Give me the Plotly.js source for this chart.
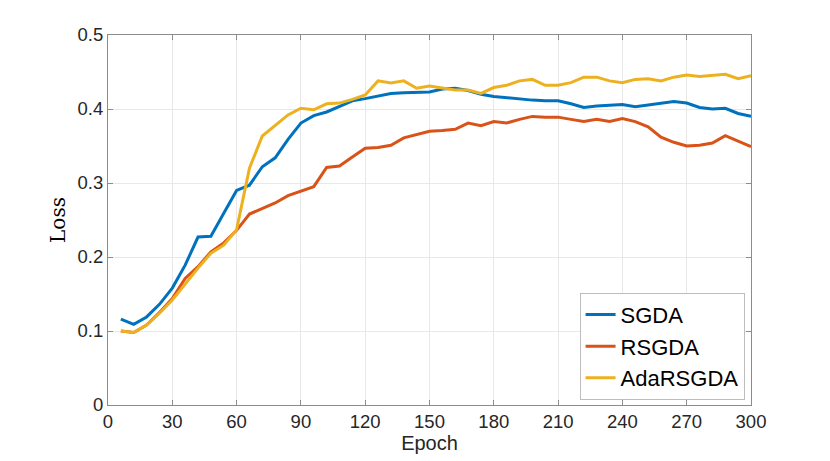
<!DOCTYPE html>
<html>
<head>
<meta charset="utf-8">
<script src="https://cdn.plot.ly/plotly-3.0.1.min.js"></script>
<style>
  html, body { margin: 0; padding: 0; background: #fff; }
  #chart { width: 830px; height: 461px; }
</style>
</head>
<body>
<div id="chart"></div>
<script>
// epochs sampled every 6 up to 300
const epochs = [6, 12, 18, 24, 30, 36, 42, 48, 54, 60,
  66, 72, 78, 84, 90, 96, 102, 108, 114, 120,
  126, 132, 138, 144, 150, 156, 162, 168, 174, 180,
  186, 192, 198, 204, 210, 216, 222, 228, 234, 240,
  246, 252, 258, 264, 270, 276, 282, 288, 294, 300];

const sgda = [0.116, 0.109, 0.119, 0.136, 0.158, 0.189, 0.227, 0.228, 0.259, 0.290,
  0.297, 0.322, 0.334, 0.359, 0.381, 0.391, 0.396, 0.404, 0.411, 0.414,
  0.418, 0.421, 0.422, 0.423, 0.423, 0.427, 0.428, 0.425, 0.420, 0.417,
  0.415, 0.4135, 0.412, 0.411, 0.411, 0.407, 0.402, 0.404, 0.405, 0.406,
  0.403, 0.405, 0.408, 0.410, 0.408, 0.402, 0.400, 0.401, 0.394, 0.390];

const rsgda = [0.100, 0.098, 0.108, 0.125, 0.144, 0.171, 0.187, 0.207, 0.219, 0.236,
  0.258, 0.266, 0.273, 0.283, 0.289, 0.295, 0.321, 0.323, 0.335, 0.347,
  0.348, 0.351, 0.361, 0.365, 0.370, 0.371, 0.3725, 0.381, 0.3775, 0.383,
  0.381, 0.386, 0.390, 0.389, 0.389, 0.386, 0.383, 0.386, 0.383, 0.387,
  0.383, 0.376, 0.362, 0.355, 0.350, 0.351, 0.354, 0.364, 0.357, 0.349];

const adarsgda = [0.100, 0.098, 0.108, 0.124, 0.142, 0.164, 0.185, 0.205, 0.216, 0.237,
  0.320, 0.3635, 0.378, 0.392, 0.401, 0.399, 0.407, 0.408, 0.413, 0.419,
  0.438, 0.435, 0.438, 0.428, 0.431, 0.428, 0.4257, 0.4257, 0.421, 0.429,
  0.432, 0.438, 0.440, 0.432, 0.432, 0.4356, 0.443, 0.443, 0.438, 0.4356,
  0.440, 0.441, 0.438, 0.443, 0.446, 0.444, 0.445, 0.447, 0.441, 0.445];

const xTicks = [0, 30, 60, 90, 120, 150, 180, 210, 240, 270, 300];
const yTicks = [0, 0.1, 0.2, 0.3, 0.4, 0.5];

function line(y, name, color) {
  return {
    x: epochs, y: y, name: name,
    type: "scatter", mode: "lines",
    line: { color: color, width: 3 },
  };
}

const data = [
  line(sgda, "SGDA", "#0072BD"),
  line(rsgda, "RSGDA", "#D95319"),
  line(adarsgda, "AdaRSGDA", "#EDB120"),
];

const axisCommon = {
  showline: true,
  linecolor: "#8c8c8c",
  linewidth: 1,
  mirror: "allticks",
  ticks: "inside",
  ticklen: 5,
  tickcolor: "#8c8c8c",
  showgrid: true,
  gridcolor: "#e8e8e8",
  zeroline: false,
  tickfont: { family: "Liberation Sans, Arial, sans-serif", size: 18.5, color: "#262626" },
};

const layout = {
  width: 830,
  height: 461,
  paper_bgcolor: "#fff",
  plot_bgcolor: "#fff",
  margin: { l: 108, r: 79, t: 35, b: 56 },
  xaxis: {
    ...axisCommon,
    range: [0, 300],
    tickvals: xTicks,
    ticktext: xTicks.map(String),
    title: { text: "Epoch", standoff: 1,
      font: { family: "Liberation Sans, Arial, sans-serif", size: 20, color: "#262626" } },
  },
  yaxis: {
    ...axisCommon,
    range: [0, 0.5],
    tickvals: yTicks,
    ticktext: ["0", "0.1", "0.2", "0.3", "0.4", "0.5"],
    title: { text: "Loss", standoff: 6,
      font: { family: "DejaVu Serif, Liberation Serif, serif", size: 20, color: "#000" } },
  },
  legend: {
    x: 0.99, y: 0.014,
    xanchor: "right", yanchor: "bottom",
    bgcolor: "#fff",
    bordercolor: "#bdbdbd",
    borderwidth: 1,
    font: { family: "Liberation Sans, Arial, sans-serif", size: 22, color: "#000" },
    tracegroupgap: 0,
  },
  showlegend: true,
};

Plotly.newPlot("chart", data, layout, { displayModeBar: false, staticPlot: true });
</script>
</body>
</html>
